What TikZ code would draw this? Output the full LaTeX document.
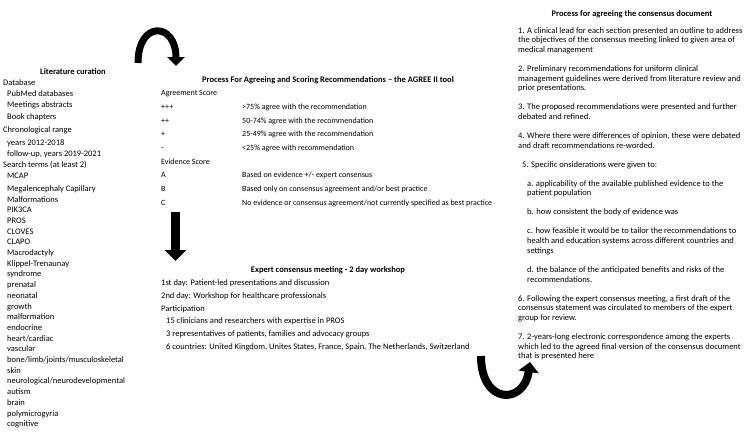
\documentclass[tikz,border=0pt]{standalone}
\usepackage{fontspec}
\setmainfont{Carlito}
\usetikzlibrary{arrows.meta}
\tikzset{
  txt/.style={font=\fontsize{8.5}{10}\selectfont, inner sep=0pt, anchor=west, text height=6pt, text depth=2pt},
  tbl/.style={txt, font=\fontsize{8}{10}\selectfont},
  hd/.style={font=\fontsize{8.5}{10}\selectfont\bfseries, inner sep=0pt, anchor=center, text height=6pt, text depth=2pt},
  bigarrow/.style={line width=7pt, -{Triangle[length=9pt,width=17pt]}},
}
\begin{document}
\begin{tikzpicture}[x=1pt,y=-1pt]
\useasboundingbox (0,0) rectangle (750,432);
% ---------- left column ----------
\node[hd] (lit) at (73,72) {Literature curation};
\node[txt] (l1) at (3,83) {Database};
\node[txt] (l2) at (7,94) {PubMed databases};
\node[txt] (l3) at (7,105) {Meetings abstracts};
\node[txt] (l4) at (7,117) {Book chapters};
\node[txt] (l5) at (3,130) {Chronological range};
\node[txt] (l6) at (7,143) {years 2012-2018};
\node[txt] (l7) at (7,154) {follow-up, years 2019-2021};
\node[txt] (l8) at (3,165) {Search terms (at least 2)};
\node[txt] (l9) at (7,176) {MCAP};
\node[txt] (l10) at (7,189) {Megalencephaly Capillary};
\node[txt] (l11) at (7,200) {Malformations};
\foreach \t [count=\i from 12] in {PIK3CA, PROS, CLOVES, CLAPO, Macrodactyly, Klippel-Trenaunay, syndrome, prenatal, neonatal, growth, malformation, endocrine, heart/cardiac, vascular, bone/limb/joints/musculoskeletal, skin, neurological/neurodevelopmental, autism, brain, polymicrogyria, cognitive}
  \node[txt] (l\i) at (7,{200+(\i-11)*10.7}) {\t};
% ---------- middle column ----------
\node[hd] (pt) at (328,80) {Process For Agreeing and Scoring Recommendations – the AGREE II tool};
\node[tbl] (as) at (161,93.7) {Agreement Score};
\node[tbl] (s3) at (161,107.3) {+++};
\node[tbl] (d3) at (242,107.3) {>75\% agree with the recommendation};
\node[tbl] (s2) at (161,121) {++};
\node[tbl] (d2) at (242,121) {50-74\% agree with the recommendation};
\node[tbl] (s1) at (161,134.7) {+};
\node[tbl] (d1) at (242,134.7) {25-49\% agree with the recommendation};
\node[tbl] (s0) at (161,148.3) {-};
\node[tbl] (d0) at (242,148.3) {<25\% agree with recommendation};
\node[tbl] (es) at (161,162) {Evidence Score};
\node[tbl] (ea) at (161,175.7) {A};
\node[tbl] (eda) at (242,175.7) {Based on evidence +/- expert consensus};
\node[tbl] (eb) at (161,189.3) {B};
\node[tbl] (edb) at (242,189.3) {Based only on consensus agreement and/or best practice};
\node[tbl] (ec) at (161,203) {C};
\node[tbl] (edc) at (242,203) {No evidence or consensus agreement/not currently specified as best practice};
\node[hd] (et) at (328,270) {Expert consensus meeting - 2 day workshop};
\node[txt] (e1) at (161,283) {1st day: Patient-led presentations and discussion};
\node[txt] (e2) at (161,296) {2nd day: Workshop for healthcare professionals};
\node[txt] (e3) at (161,309) {Participation};
\node[txt] (e4) at (166,321) {15 clinicians and researchers with expertise in PROS};
\node[txt] (e5) at (166,334) {3 representatives of patients, families and advocacy groups};
\node[txt] (e6) at (166,347) {6 countries: United Kingdom, Unites States, France, Spain, The Netherlands, Switzerland};
% ---------- right column ----------
\node[hd] (rt) at (632,14) {Process for agreeing the consensus document};
\node[txt] (r1a) at (518,31) {1. A clinical lead for each section presented an outline to address};
\node[txt] (r1b) at (518,40.7) {the objectives of the consensus meeting linked to given area of};
\node[txt] (r1c) at (518,50.4) {medical management};
\node[txt] (r2a) at (518,69.4) {2. Preliminary recommendations for uniform clinical};
\node[txt] (r2b) at (518,79.1) {management guidelines were derived from literature review and};
\node[txt] (r2c) at (518,88.8) {prior presentations.};
\node[txt] (r3a) at (518,107.8) {3. The proposed recommendations were presented and further};
\node[txt] (r3b) at (518,117.5) {debated and refined.};
\node[txt] (r4a) at (518,136.5) {4. Where there were differences of opinion, these were debated};
\node[txt] (r4b) at (518,146.2) {and draft recommendations re-worded.};
\node[txt] (r5) at (522,165.2) {5. Specific onsiderations were given to:};
\node[txt] (raa) at (527,184.2) {a. applicability of the available published evidence to the};
\node[txt] (rab) at (527,193.9) {patient population};
\node[txt] (rb) at (527,212.9) {b. how consistent the body of evidence was};
\node[txt] (rca) at (527,231.9) {c. how feasible it would be to tailor the recommendations to};
\node[txt] (rcb) at (527,241.6) {health and education systems across different countries and};
\node[txt] (rcc) at (527,251.3) {settings};
\node[txt] (rda) at (527,270.3) {d. the balance of the anticipated benefits and risks of the};
\node[txt] (rdb) at (527,280) {recommendations.};
\node[txt] (r6a) at (518,299) {6. Following the expert consensus meeting, a first draft of the};
\node[txt] (r6b) at (518,308.7) {consensus statement was circulated to members of the expert};
\node[txt] (r6c) at (518,318.4) {group for review.};
\node[txt] (r7a) at (518,337.4) {7. 2-years-long electronic correspondence among the experts};
\node[txt] (r7b) at (518,347.1) {which led to the agreed final version of the consensus document};
\node[txt] (r7c) at (518,356.8) {that is presented here};
% ---------- arrows ----------
\coordinate (ta) at (138,63);
\coordinate (tb) at (176,66);
\draw[bigarrow] (ta) .. controls (138,20) and (176,22) .. (tb);
\coordinate (da) at (175.5,212);
\coordinate (db) at (175.5,261);
\draw[line width=9pt, -{Triangle[length=11pt,width=21pt]}] (da) -- (db);
\coordinate (ba) at (481,356);
\coordinate (bb) at (530,362);
\draw[line width=8pt, -{Triangle[length=10pt,width=20pt]}] (ba) .. controls (481,405) and (524,405) .. (bb);
\end{tikzpicture}
\end{document}
